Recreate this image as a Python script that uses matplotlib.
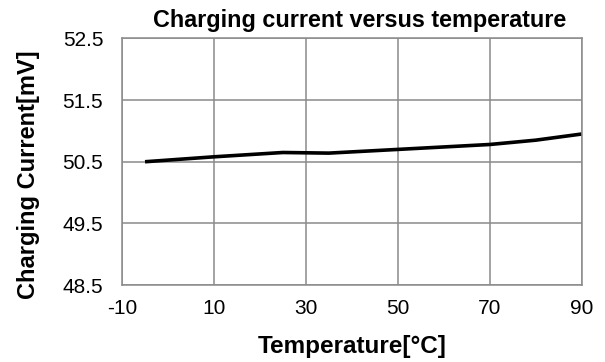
import matplotlib.pyplot as plt

plt.rcParams['font.family'] = ['Liberation Sans', 'DejaVu Sans']

# data
temperature = [-5, 10, 25, 35, 50, 70, 80, 90]
current_mv = [50.50, 50.58, 50.65, 50.64, 50.70, 50.78, 50.85, 50.95]
x_ticks = [-10, 10, 30, 50, 70, 90]
y_ticks = [48.5, 49.5, 50.5, 51.5, 52.5]

fig = plt.figure(figsize=(6.05, 3.62), dpi=100)
ax = fig.add_axes([0.2017, 0.2127, 0.7598, 0.681])

ax.plot(temperature, current_mv, color='black', linewidth=2.6, solid_capstyle='butt')

ax.set_xlim(-10, 90)
ax.set_ylim(48.5, 52.5)
ax.set_xticks(x_ticks)
ax.set_xticklabels([str(v) for v in x_ticks])
ax.set_yticks(y_ticks)
ax.set_yticklabels([f'{v:.1f}' for v in y_ticks])
ax.tick_params(length=0, labelsize=15, colors='black')
ax.tick_params(axis='x', pad=10)
ax.tick_params(axis='y', pad=13.5)
ax.grid(True, color='#8a8a8a', linewidth=1.1)
ax.set_axisbelow(True)
for sp in ax.spines.values():
    sp.set_color('#8a8a8a')
    sp.set_linewidth(1.1)

ax.text(0.516, 1.025, 'Charging current versus temperature', transform=ax.transAxes,
        ha='center', va='bottom', fontsize=16.8, fontweight='bold')
ax.set_xlabel('Temperature[°C]', fontsize=17.5, fontweight='bold')
ax.set_ylabel('Charging Current[mV]', fontsize=17, fontweight='bold')
ax.xaxis.set_label_coords(0.5, -0.203)
ax.yaxis.set_label_coords(-0.178, 0.446)

fig.savefig('out.png', dpi=100)
